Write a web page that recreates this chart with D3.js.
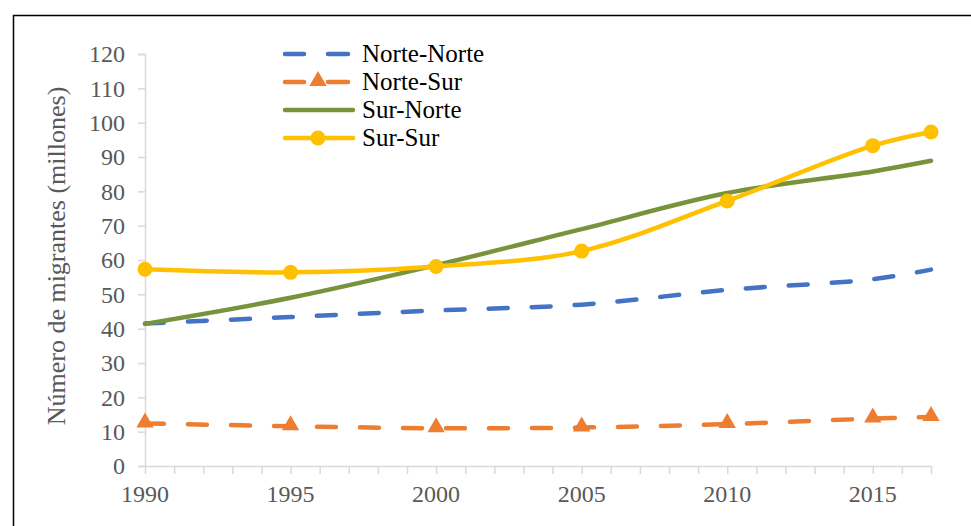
<!DOCTYPE html>
<html>
<head>
<meta charset="utf-8">
<script src="https://cdn.jsdelivr.net/npm/d3@7"></script>
<style>
  body { margin: 0; background: #fff; }
  svg { display: block; }
</style>
</head>
<body>
<svg id="chart" width="971" height="526"></svg>
<script>
const years = [1990, 1995, 2000, 2005, 2010, 2015, 2017];
const seriesNames = ["Norte-Norte", "Norte-Sur", "Sur-Norte", "Sur-Sur"];
const norteNorte = [41.5, 43.4, 45.3, 47.0, 51.3, 54.4, 57.2];
const norteSur = [12.4, 11.6, 11.0, 11.2, 12.2, 13.8, 14.3];
const surNorte = [41.4, 49.0, 58.5, 69.0, 79.5, 85.8, 88.9];
const surSur = [57.3, 56.4, 58.1, 62.6, 77.2, 93.3, 97.3];
const yTicks = [0, 10, 20, 30, 40, 50, 60, 70, 80, 90, 100, 110, 120];
const xLabelYears = [1990, 1995, 2000, 2005, 2010, 2015];
const xMinorYears = d3.range(1990, 2018);

const colors = ["#4472C4", "#ED7D31", "#77933C", "#FFC000"];
const dashes = ["19,24", "19,24", null, null];
const markers = [null, "triangle", null, "circle"];
const allValues = [norteNorte, norteSur, surNorte, surSur];

const svg = d3.select("#chart");
const font = "'Liberation Serif', 'Times New Roman', serif";

// outer border
svg.append("rect").attr("x", 13.5).attr("y", 15.5).attr("width", 990).attr("height", 560)
  .attr("fill", "none").attr("stroke", "#000").attr("stroke-width", 1.5);

const x = d3.scaleLinear().domain([1990, 2017]).range([145, 931]);
const y = d3.scaleLinear().domain([0, 120]).range([466, 54]);

// y axis
const yAxis = svg.append("g").attr("transform", "translate(145,0)")
  .call(d3.axisLeft(y).tickValues(yTicks).tickSize(7).tickPadding(13).tickFormat(d3.format("d")));
yAxis.select(".domain").attr("stroke", "#D9D9D9").attr("stroke-width", 1.5);
yAxis.selectAll(".tick line").attr("stroke", "#D9D9D9").attr("stroke-width", 1.5);
yAxis.selectAll(".tick text").attr("fill", "#595959").style("font-family", font).style("font-size", "24px");

// x axis
const xAxis = svg.append("g").attr("transform", "translate(0,466)")
  .call(d3.axisBottom(x).tickValues(xMinorYears).tickSize(8).tickSizeOuter(0).tickFormat(() => ""));
xAxis.select(".domain").attr("stroke", "#D9D9D9").attr("stroke-width", 1.5);
xAxis.selectAll(".tick line").attr("stroke", "#D9D9D9").attr("stroke-width", 1.5);
svg.append("g").selectAll("text").data(xLabelYears).join("text")
  .attr("x", d => x(d)).attr("y", 502)
  .attr("text-anchor", "middle").attr("fill", "#595959")
  .style("font-family", font).style("font-size", "24px")
  .text(d => d);

// y axis title
svg.append("text")
  .attr("transform", "translate(65,256) rotate(-90)")
  .attr("text-anchor", "middle").attr("fill", "#595959")
  .style("font-family", font).style("font-size", "26px")
  .text("Número de migrantes (millones)");

const line = d3.line().x(d => x(d[0])).y(d => y(d[1])).curve(d3.curveCatmullRom.alpha(0.5));

const triangle = d3.symbol().type(d3.symbolTriangle).size(130);

allValues.forEach((vals, i) => {
  const pts = years.map((yr, j) => [yr, vals[j]]);
  const g = svg.append("g");
  g.append("path").datum(pts).attr("d", line)
    .attr("fill", "none").attr("stroke", colors[i]).attr("stroke-width", 4.5)
    .attr("stroke-linecap", "round").attr("stroke-linejoin", "round")
    .attr("stroke-dasharray", dashes[i]);
  if (markers[i] === "circle") {
    g.selectAll("circle").data(pts).join("circle")
      .attr("cx", d => x(d[0])).attr("cy", d => y(d[1])).attr("r", 7.5)
      .attr("fill", colors[i]);
  } else if (markers[i] === "triangle") {
    g.selectAll("path.m").data(pts).join("path").attr("class", "m")
      .attr("transform", d => `translate(${x(d[0])},${y(d[1]) - 1})`)
      .attr("d", triangle).attr("fill", colors[i]);
  }
});

// legend
const legendY = [54, 82, 110, 138];
const legend = svg.append("g");
seriesNames.forEach((name, i) => {
  const ly = legendY[i];
  if (i === 0) {
    legend.append("line").attr("x1", 285).attr("x2", 304).attr("y1", ly).attr("y2", ly)
      .attr("stroke", colors[i]).attr("stroke-width", 4.5).attr("stroke-linecap", "round");
    legend.append("line").attr("x1", 328).attr("x2", 348).attr("y1", ly).attr("y2", ly)
      .attr("stroke", colors[i]).attr("stroke-width", 4.5).attr("stroke-linecap", "round");
  } else if (i === 1) {
    legend.append("line").attr("x1", 285).attr("x2", 304).attr("y1", ly).attr("y2", ly)
      .attr("stroke", colors[i]).attr("stroke-width", 4.5).attr("stroke-linecap", "round");
    legend.append("line").attr("x1", 328).attr("x2", 348).attr("y1", ly).attr("y2", ly)
      .attr("stroke", colors[i]).attr("stroke-width", 4.5).attr("stroke-linecap", "round");
    legend.append("path").attr("transform", `translate(318,${ly - 1})`)
      .attr("d", triangle).attr("fill", colors[i]);
  } else {
    legend.append("line").attr("x1", 285).attr("x2", 353).attr("y1", ly).attr("y2", ly)
      .attr("stroke", colors[i]).attr("stroke-width", 4.5).attr("stroke-linecap", "round");
    if (i === 3) {
      legend.append("circle").attr("cx", 318).attr("cy", ly).attr("r", 7.5).attr("fill", colors[i]);
    }
  }
  legend.append("text").attr("x", 362).attr("y", ly + 8)
    .attr("fill", "#000").style("font-family", font).style("font-size", "25px")
    .text(name);
});
</script>
</body>
</html>
